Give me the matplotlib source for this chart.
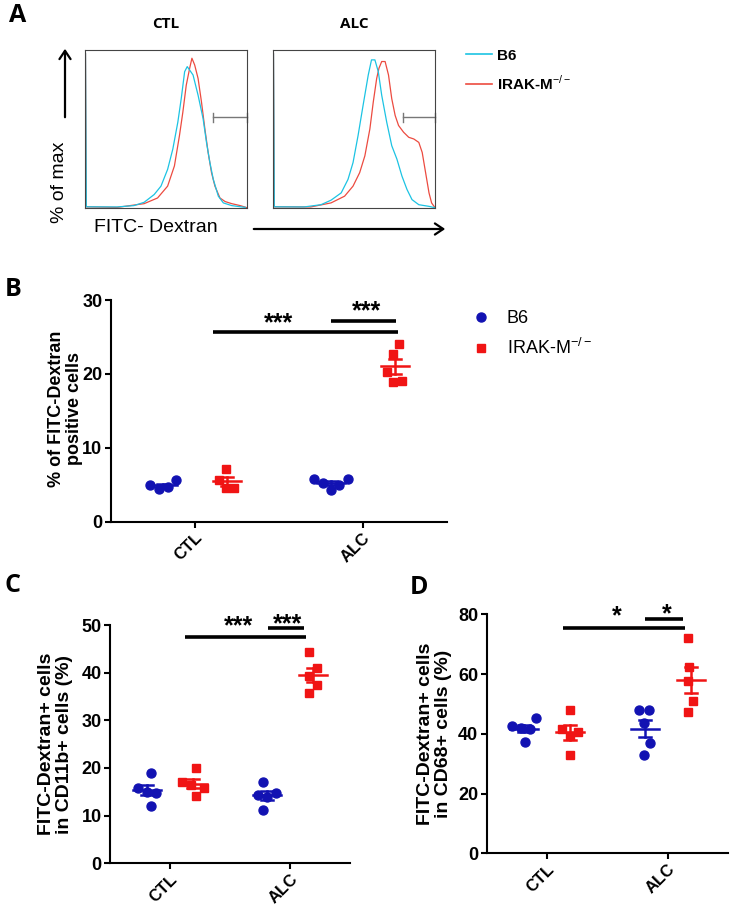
import numpy as np
import matplotlib
matplotlib.use("Agg")
import matplotlib.pyplot as plt
from matplotlib.lines import Line2D
from matplotlib.patches import FancyArrowPatch

plt.rcParams['font.family'] = ['Liberation Sans', 'DejaVu Sans']
plt.rcParams['mathtext.fontset'] = 'custom'
plt.rcParams['mathtext.rm'] = 'Liberation Sans'
plt.rcParams['mathtext.bf'] = 'Liberation Sans:bold'

W, H = 733, 913

# ---- panel A: histograms (x = % of axis width, y = % of max) ----
ctl_b6_x = [0.3, 0.8, 19.8, 30.2, 36.5, 42.7, 46.9, 51.0, 54.2, 57.3, 59.4, 61.5, 63.1, 64.6, 66.7, 69.8, 72.9, 75.0, 77.1, 79.2, 82.3, 85.4, 90.6, 99.0]
ctl_b6_y = [103, 0.8, 0.7, 1.6, 3.8, 9.0, 14.6, 25.8, 39.3, 57.3, 73.0, 91.0, 94.4, 92.1, 88.8, 75.3, 59.6, 43.8, 30.3, 19.1, 7.9, 3.4, 1.6, 0.4]
ctl_irak_x = [0.3, 0.8, 19.8, 36.5, 44.8, 51.0, 55.2, 58.3, 60.4, 62.5, 64.6, 66.0, 67.7, 69.8, 71.9, 74.0, 76.0, 78.1, 80.2, 83.3, 86.5, 90.6, 95.8, 100]
ctl_irak_y = [103, 0.8, 0.4, 2.9, 6.7, 14.6, 28.1, 48.3, 64.0, 82.0, 93.3, 100, 95.5, 86.5, 70.8, 52.8, 37.1, 23.6, 14.6, 6.7, 4.3, 2.9, 1.6, 0.2]
alc_b6_x = [0.3, 0.8, 19.2, 29.6, 35.8, 42.1, 46.3, 49.4, 52.5, 55.6, 58.8, 60.8, 62.9, 65.0, 67.1, 70.2, 73.3, 76.5, 79.6, 82.7, 85.8, 90.0, 96.3, 100]
alc_b6_y = [103, 0.8, 0.7, 2.2, 5.2, 10.1, 19.1, 30.3, 48.3, 68.5, 88.8, 98.9, 98.9, 91.0, 75.3, 57.3, 41.6, 32.6, 21.3, 12.4, 5.6, 2.2, 1.1, 0.2]
alc_irak_x = [0.3, 0.8, 23.3, 35.8, 44.2, 49.4, 53.5, 56.7, 59.8, 61.9, 64.0, 65.4, 67.1, 69.2, 71.3, 73.3, 75.4, 77.5, 80.6, 83.8, 86.9, 90.0, 92.1, 94.2, 96.3, 97.9, 100]
alc_irak_y = [103, 0.8, 0.7, 3.4, 7.9, 14.6, 23.6, 34.8, 52.8, 70.8, 86.5, 93.3, 97.8, 97.8, 88.8, 73.0, 61.8, 55.1, 50.6, 47.2, 46.1, 43.8, 37.1, 23.6, 10.1, 3.4, 0.2]

# ---- panels B-D: individual mice ----
categories = ['CTL', 'ALC']
b_b6 = [[4.95, 4.4, 4.7, 5.6], [5.8, 5.8, 4.3, 5.2, 5.0]]
b_irak = [[7.1, 5.6, 4.5, 4.6], [24.1, 22.7, 20.3, 19.1, 18.9]]
c_b6 = [[19.0, 12.1, 14.8, 15.8, 15.0], [17.1, 11.2, 14.3, 14.7, 14.0]]
c_irak = [[20.1, 16.5, 15.8, 17.0, 14.2], [44.4, 40.9, 39.3, 37.4, 35.8]]
d_b6 = [[45.2, 37.4, 41.5, 42.0, 42.5], [47.8, 47.8, 32.9, 36.8, 43.5]]
d_irak = [[48.0, 32.9, 40.7, 39.1, 41.5], [72.0, 62.5, 57.8, 51.1, 47.4]]

BLUE = '#1212b2'
RED = '#f01414'
CYAN = '#1cc3e3'
HRED = '#ec4b40'


def rect(x0, y0, x1, y1):
    return [x0 / W, 1 - y1 / H, (x1 - x0) / W, (y1 - y0) / H]


def swarm(vals, d, ypx, yscale=1.7):
    # simple beeswarm, offsets in pixels; collision box is taller than the marker
    vals = np.asarray(vals, float)
    offs = np.zeros(len(vals))
    placed = []
    steps = [0.0]
    for k in range(1, 80):
        steps += [k * 0.5, -k * 0.5]
    for i in np.argsort(vals):
        y = vals[i] * ypx
        for s in steps:
            if all(((s - px) / d) ** 2 + ((y - py) / (d * yscale)) ** 2 >= 0.96 for px, py in placed):
                offs[i] = s
                placed.append((s, y))
                break
    return offs - (offs.max() + offs.min()) / 2


def dot_panel(ax, b6, irak, ymax, ystep, wpx, hpx):
    xpu = wpx / 2.0
    ypx = hpx / ymax
    for groups, color, marker, shift in [(b6, BLUE, 'o', -0.19), (irak, RED, 's', 0.19)]:
        for ci, vals in enumerate(groups):
            xc = ci + shift
            ms = 9.0 if marker == 'o' else 8.5
            offs = swarm(vals, ms, ypx) / xpu
            ax.plot(xc + offs, vals, ls='none', marker=marker, color=color,
                    ms=ms * 0.72, mec=color, clip_on=False, zorder=3)
            m = np.mean(vals)
            sem = np.std(vals, ddof=1) / np.sqrt(len(vals))
            hw = 14 / xpu
            cw = 6 / xpu
            ax.plot([xc - hw, xc + hw], [m, m], color=color, lw=1.8, zorder=4)
            ax.plot([xc, xc], [m - sem, m + sem], color=color, lw=1.8, zorder=4)
            ax.plot([xc - cw, xc + cw], [m + sem, m + sem], color=color, lw=1.8, zorder=4)
            ax.plot([xc - cw, xc + cw], [m - sem, m - sem], color=color, lw=1.8, zorder=4)
    ax.set_xlim(-0.5, 1.5)
    ax.set_ylim(0, ymax)
    ax.set_yticks(np.arange(0, ymax + 0.1, ystep))
    ax.set_xticks([0, 1])
    ax.set_xticklabels(categories, rotation=45, ha='right', rotation_mode='anchor',
                       fontsize=12, fontweight='bold')
    for lab in ax.get_yticklabels():
        lab.set_fontweight('bold')
        lab.set_fontsize(13)
    for s in ['top', 'right']:
        ax.spines[s].set_visible(False)
    for s in ['left', 'bottom']:
        ax.spines[s].set_linewidth(1.5)
    ax.tick_params(width=1.5, length=4, pad=2)


def sig(ax, x0, x1, y, lw=2.6):
    ax.plot([x0, x1], [y, y], color='black', lw=lw, clip_on=False, solid_capstyle='butt')


def stars(ax, x, y, s, size):
    ax.text(x, y, s, ha='center', va='center', fontsize=size, fontweight='bold', clip_on=False)


fig = plt.figure(figsize=(W / 100, H / 100), dpi=100)

# ---------------- A ----------------
hist_sets = [('CTL', (85, 50, 247, 208), ctl_b6_x, ctl_b6_y, ctl_irak_x, ctl_irak_y, 79.2),
             ('ALC', (273, 50, 435, 208), alc_b6_x, alc_b6_y, alc_irak_x, alc_irak_y, 80.0)]
hax = []
for title, r, bx, by, rx, ry, gate in hist_sets:
    ax = fig.add_axes(rect(*r))
    ax.plot(rx, ry, color=HRED, lw=0.9)
    ax.plot(bx, by, color=CYAN, lw=0.9)
    ax.set_xlim(0, 100)
    ax.set_ylim(0, 105.5)
    ax.set_xticks([])
    ax.set_yticks([])
    for s in ax.spines.values():
        s.set_linewidth(0.8)
        s.set_color('#444444')
    # gate marker
    ax.plot([gate, 100], [60.7, 60.7], color='#777777', lw=1.0, clip_on=False)
    ax.plot([gate, gate], [57.7, 63.7], color='#777777', lw=1.0, clip_on=False)
    ax.plot([100, 100], [57.7, 63.7], color='#777777', lw=1.0, clip_on=False)
    ax.set_title(title, fontsize=11, fontweight='bold', family='Open Sans', pad=16)
    hax.append(ax)

hax[1].legend(handles=[Line2D([], [], color=CYAN, lw=1.2), Line2D([], [], color=HRED, lw=1.2)],
              labels=['B6', r'IRAK-M$^{-/-}$'], loc='upper left',
              bbox_to_anchor=(452 / W, 1 - 35 / H), bbox_transform=fig.transFigure,
              frameon=False, handlelength=1.75, handletextpad=0.3,
              labelspacing=0.75, prop={'weight': 'bold', 'size': 11})

fig.text(59 / W, 1 - 182 / H, '% of max', rotation=90, ha='center', va='center', fontsize=14)
fig.text(156 / W, 1 - 227 / H, 'FITC- Dextran', ha='center', va='center', fontsize=14)
fig.add_artist(FancyArrowPatch((65 / W, 1 - 120 / H), (65 / W, 1 - 46 / H),
               transform=fig.transFigure, arrowstyle='->,head_length=6,head_width=4',
               lw=1.6, color='black', mutation_scale=1))
fig.add_artist(FancyArrowPatch((251 / W, 1 - 229 / H), (448 / W, 1 - 229 / H),
               transform=fig.transFigure, arrowstyle='->,head_length=6,head_width=4',
               lw=1.6, color='black', mutation_scale=1))

# ---------------- B ----------------
bx0, by0, bx1, by1 = 110.7, 300, 446.7, 521.7
axb = fig.add_axes(rect(bx0, by0, bx1, by1))
dot_panel(axb, b_b6, b_irak, 30, 10, bx1 - bx0, by1 - by0)
axb.set_ylabel('% of FITC-Dextran\npositive cells', fontsize=13, fontweight='bold', linespacing=1.05)
axb.yaxis.set_label_coords(-0.082, 0.51)
sig(axb, 0.11, 1.21, 25.7)
sig(axb, 0.81, 1.20, 27.1)
stars(axb, 0.5, 26.9, '***', 18)
stars(axb, 1.02, 28.5, '***', 18)
axb.legend(handles=[Line2D([], [], ls='none', marker='o', color=BLUE, ms=6.5),
                    Line2D([], [], ls='none', marker='s', color=RED, ms=6)],
           labels=['B6', r'IRAK-M$^{-/-}$'], loc='upper left',
           bbox_to_anchor=(456 / W, 1 - 303 / H), bbox_transform=fig.transFigure,
           frameon=False, fontsize=13, handletextpad=0.4, labelspacing=0.6, borderaxespad=0)

# ---------------- C ----------------
cx0, cy0, cx1, cy1 = 110, 625, 350, 863.3
axc = fig.add_axes(rect(cx0, cy0, cx1, cy1))
dot_panel(axc, c_b6, c_irak, 50, 10, cx1 - cx0, cy1 - cy0)
axc.set_ylabel('FITC-Dextran+ cells\nin CD11b+ cells (%)', fontsize=14, fontweight='bold', linespacing=1.05)
axc.yaxis.set_label_coords(-0.154, 0.5)
sig(axc, 0.125, 1.13, 47.4)
sig(axc, 0.82, 1.12, 49.3)
stars(axc, 0.575, 49.8, '***', 18)
stars(axc, 0.98, 50.2, '***', 18)

# ---------------- D ----------------
dx0, dy0, dx1, dy1 = 486.7, 614.3, 728, 853.3
axd = fig.add_axes(rect(dx0, dy0, dx1, dy1))
dot_panel(axd, d_b6, d_irak, 80, 20, dx1 - dx0, dy1 - dy0)
axd.set_ylabel('FITC-Dextran+ cells\nin CD68+ cells (%)', fontsize=14, fontweight='bold', linespacing=1.05)
axd.yaxis.set_label_coords(-0.144, 0.5)
sig(axd, 0.13, 1.14, 75.3)
sig(axd, 0.81, 1.13, 78.3)
stars(axd, 0.58, 79.3, '*', 18)
stars(axd, 0.99, 80.0, '*', 18)

# panel letters
for letter, (x, y) in {'A': (18, 16), 'B': (13, 289), 'C': (13, 585), 'D': (419, 588)}.items():
    fig.text(x / W, 1 - y / H, letter, ha='center', va='center', fontsize=18,
             fontweight='bold', family='Open Sans')

fig.savefig('out.png', dpi=100)
